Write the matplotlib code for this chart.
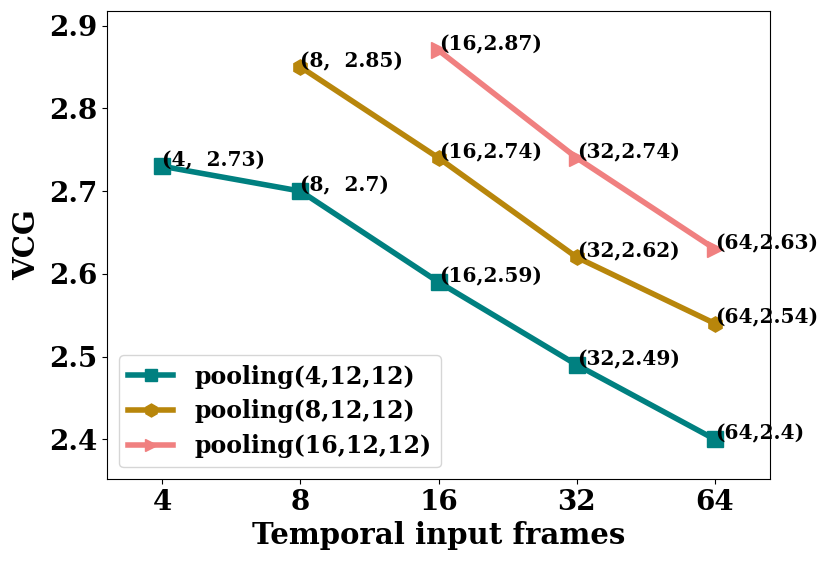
import matplotlib.pyplot as plt

frames = ['4', '8', '16', '32', '64']

# VCG per pooling setting (None where no point)
vcg_4 = [2.73, 2.70, 2.59, 2.49, 2.40]
vcg_8 = [None, 2.85, 2.74, 2.62, 2.54]
vcg_16 = [None, None, 2.87, 2.74, 2.63]

labels_4 = ['(4,  2.73)', '(8,  2.7)', '(16,2.59)', '(32,2.49)', '(64,2.4)']
labels_8 = [None, '(8,  2.85)', '(16,2.74)', '(32,2.62)', '(64,2.54)']
labels_16 = [None, None, '(16,2.87)', '(32,2.74)', '(64,2.63)']

plt.rcParams['font.family'] = 'DejaVu Serif'
plt.rcParams['font.weight'] = 'bold'

fig = plt.figure(figsize=(8.3, 5.63), dpi=100)
ax = fig.add_axes([0.129, 0.149, 0.799, 0.832])

series = [
    (vcg_4, labels_4, 'teal', 's', 'pooling(4,12,12)'),
    (vcg_8, labels_8, 'darkgoldenrod', 'h', 'pooling(8,12,12)'),
    (vcg_16, labels_16, 'lightcoral', '>', 'pooling(16,12,12)'),
]

for vals, labs, col, mk, name in series:
    xs = [i for i, v in enumerate(vals) if v is not None]
    ys = [v for v in vals if v is not None]
    ax.plot(xs, ys, color=col, marker=mk, linewidth=4, markersize=11, label=name)
    for i, v in enumerate(vals):
        if v is not None:
            ax.text(i, v, labs[i], fontsize=14.5, fontweight='bold', zorder=2)

ax.set_xticks(range(len(frames)))
ax.set_xticklabels(frames)
ax.set_xlim(-0.4, 4.4)
ax.set_ylim(2.352, 2.918)
ax.set_yticks([2.4, 2.5, 2.6, 2.7, 2.8, 2.9])
ax.tick_params(labelsize=20)
for t in ax.get_xticklabels() + ax.get_yticklabels():
    t.set_fontweight('bold')

ax.set_xlabel('Temporal input frames', fontsize=21, fontweight='bold', labelpad=4)
ax.set_ylabel('VCG', fontsize=21, fontweight='bold', labelpad=6)
ax.legend(loc='lower left', prop={'size': 17, 'weight': 'bold'},
          markerscale=0.85, handlelength=1.9, handletextpad=0.9,
          labelspacing=0.45, borderaxespad=0.5)

plt.savefig('out.png')
